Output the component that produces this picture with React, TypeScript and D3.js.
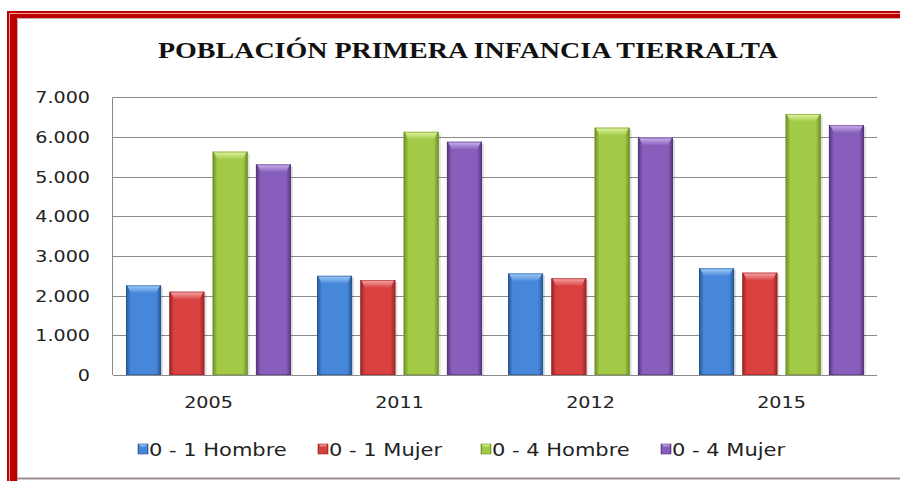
import React from 'react';
import * as d3 from 'd3';

const years = ['2005', '2011', '2012', '2015'];
const seriesNames = ['0 - 1 Hombre', '0 - 1 Mujer', '0 - 4 Hombre', '0 - 4 Mujer'];
const hombre01 = [2260, 2500, 2560, 2690];
const mujer01 = [2100, 2395, 2440, 2580];
const hombre04 = [5630, 6130, 6235, 6580];
const mujer04 = [5310, 5880, 5985, 6300];
const yTicks = [0, 1000, 2000, 3000, 4000, 5000, 6000, 7000];
const title = 'POBLACIÓN PRIMERA INFANCIA TIERRALTA';

const seriesValues = [hombre01, mujer01, hombre04, mujer04];
const palette = [
  { edge: '#27548f', mid: '#4787da', cap: '#a4d0f8' },
  { edge: '#9c2323', mid: '#d94141', cap: '#f7aaaa' },
  { edge: '#6d8e24', mid: '#a2ca47', cap: '#e0f5a2' },
  { edge: '#52357b', mid: '#875ebb', cap: '#cdb4ee' },
];

const W = 900;
const H = 481;
const SX = 1.16;
const FONT = '"DejaVu Sans", Verdana, sans-serif';

const locale = d3.formatLocale({ decimal: ',', thousands: '.', grouping: [3], currency: ['$', ''] });
const fmt = locale.format(',');

export default function App() {
  const y = d3.scaleLinear().domain([0, 7000]).range([375, 97.3]);
  const x0 = d3.scaleBand<string>().domain(years).range([113, 877]);
  const x1 = d3
    .scaleBand<string>()
    .domain(seriesNames)
    .range([0, x0.bandwidth()])
    .paddingInner(0.19)
    .paddingOuter(0.3);
  const bw = x1.bandwidth();
  const legendX = [138, 318, 481, 661];
  const legendY = 449;

  return (
    <svg width={W} height={H} style={{ position: 'absolute', left: 0, top: 0, background: '#fff' }}>
      <defs>
        {palette.map((p, i) => (
          <linearGradient key={'g' + i} id={'bar' + i} x1="0" y1="0" x2="1" y2="0">
            <stop offset="0%" stopColor={p.edge} />
            <stop offset="14%" stopColor={p.mid} />
            <stop offset="45%" stopColor={p.mid} />
            <stop offset="86%" stopColor={p.mid} />
            <stop offset="100%" stopColor={p.edge} />
          </linearGradient>
        ))}
        {palette.map((p, i) => (
          <linearGradient key={'c' + i} id={'cap' + i} x1="0" y1="0" x2="0" y2="1">
            <stop offset="0%" stopColor={p.cap} />
            <stop offset="100%" stopColor={p.mid} />
          </linearGradient>
        ))}
      </defs>

      {/* frame */}
      <rect x={7} y={11} width={W - 7} height={7} fill="#c00000" />
      <rect x={7} y={11} width={10} height={H - 11} fill="#c00000" />
      <line x1={9.5} y1={13.5} x2={W} y2={13.5} stroke="#f1a4a4" strokeWidth={1} />
      <line x1={9.5} y1={13.5} x2={9.5} y2={H} stroke="#f1a4a4" strokeWidth={1} />
      <line x1={17.5} y1={18.5} x2={W} y2={18.5} stroke="#c9b5b5" strokeWidth={1} />
      <line x1={17.5} y1={18.5} x2={17.5} y2={H} stroke="#c9b5b5" strokeWidth={1} />
      <line x1={17} y1={478.5} x2={W} y2={478.5} stroke="#a38c8c" strokeWidth={2} />

      {/* title */}
      <text
        x={468}
        y={57.5}
        textAnchor="middle"
        fontFamily='"Liberation Serif", "Times New Roman", serif'
        fontWeight="bold"
        fontSize={23}
        textLength={620}
        lengthAdjust="spacingAndGlyphs"
        fill="#111"
      >
        {title}
      </text>

      {/* grid */}
      {yTicks.map((t) => (
        <line key={'gl' + t} x1={113} x2={877} y1={Math.round(y(t)) + 0.5} y2={Math.round(y(t)) + 0.5} stroke="#8a8a8a" strokeWidth={1} />
      ))}
      <line x1={112.5} x2={112.5} y1={y(7000)} y2={y(0)} stroke="#8a8a8a" strokeWidth={1} />

      {/* y labels */}
      {yTicks.map((t) => (
        <text
          key={'yl' + t}
          transform={`translate(90,${y(t) + 6}) scale(${SX},1)`}
          textAnchor="end"
          fontFamily={FONT}
          fontSize={16.5}
          fill="#222"
        >
          {fmt(t)}
        </text>
      ))}

      {/* bars */}
      {years.map((yr, gi) => (
        <g key={yr} transform={`translate(${x0(yr)},0)`}>
          {seriesNames.map((s, si) => {
            const v = seriesValues[si][gi];
            const bx = x1(s) as number;
            const top = y(v);
            const h = y(0) - top;
            const cap = Math.min(8, h / 2);
            return (
              <g key={s}>
                <rect x={bx + 2} y={top + 2} width={bw} height={h - 2} fill="#000" opacity={0.12} />
                <rect x={bx} y={top} width={bw} height={h} fill={`url(#bar${si})`} />
                <path
                  d={`M${bx + 1},${top} L${bx + bw - 1},${top} L${bx + bw - 5},${top + cap} L${bx + 5},${top + cap} Z`}
                  fill={`url(#cap${si})`}
                />
                <rect x={bx + 0.5} y={top + 0.5} width={bw - 1} height={h - 1} fill="none" stroke={palette[si].edge} strokeOpacity={0.55} strokeWidth={1} />
              </g>
            );
          })}
        </g>
      ))}
      <line x1={113} x2={877} y1={375.5} y2={375.5} stroke="#8a8a8a" strokeWidth={1} />

      {/* x labels */}
      {years.map((yr) => (
        <text
          key={'xl' + yr}
          transform={`translate(${(x0(yr) as number) + x0.bandwidth() / 2},408) scale(${SX},1)`}
          textAnchor="middle"
          fontFamily={FONT}
          fontSize={16.5}
          fill="#222"
        >
          {yr}
        </text>
      ))}

      {/* legend */}
      {seriesNames.map((s, i) => (
        <g key={'lg' + s} transform={`translate(${legendX[i]},${legendY})`}>
          <rect x={0} y={-5} width={10} height={10} fill={`url(#bar${i})`} stroke={palette[i].edge} strokeWidth={0.6} />
          <path d="M1,-4.5 L9,-4.5 L7,-1.5 L3,-1.5 Z" fill={`url(#cap${i})`} />
          <text transform={`translate(11,6.5) scale(1.2,1)`} fontFamily={FONT} fontSize={17.5} fill="#222">
            {s}
          </text>
        </g>
      ))}
    </svg>
  );
}
